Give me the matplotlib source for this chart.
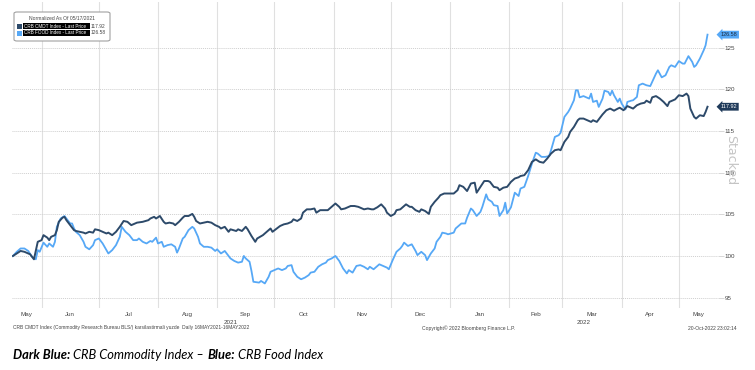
import matplotlib
matplotlib.use("Agg")
import matplotlib.pyplot as plt
import matplotlib.dates as mdates
import matplotlib.transforms as mtransforms
from matplotlib.patches import FancyBboxPatch, Rectangle
import pandas as pd

# ---- data (normalized to 100 on 17 May 2021) ----
cmdt_dates = [
    "2021-05-17", "2021-05-21", "2021-05-23", "2021-05-26", "2021-05-28", "2021-05-30", "2021-06-01", "2021-06-02",
    "2021-06-04", "2021-06-05", "2021-06-06", "2021-06-08", "2021-06-09", "2021-06-10", "2021-06-12", "2021-06-13",
    "2021-06-14", "2021-06-16", "2021-06-18", "2021-06-19", "2021-06-21", "2021-06-23", "2021-06-24", "2021-06-26",
    "2021-06-28", "2021-06-29", "2021-07-01", "2021-07-03", "2021-07-05", "2021-07-06", "2021-07-08", "2021-07-10",
    "2021-07-12", "2021-07-14", "2021-07-16", "2021-07-18", "2021-07-20", "2021-07-21", "2021-07-24", "2021-07-27",
    "2021-07-28", "2021-07-30", "2021-07-31", "2021-08-02", "2021-08-04", "2021-08-05", "2021-08-07", "2021-08-09",
    "2021-08-10", "2021-08-12", "2021-08-14", "2021-08-15", "2021-08-17", "2021-08-19", "2021-08-20", "2021-08-21",
    "2021-08-23", "2021-08-25", "2021-08-27", "2021-08-29", "2021-08-31", "2021-09-02", "2021-09-03", "2021-09-05",
    "2021-09-07", "2021-09-08", "2021-09-11", "2021-09-12", "2021-09-14", "2021-09-16", "2021-09-17", "2021-09-19",
    "2021-09-21", "2021-09-22", "2021-09-25", "2021-09-26", "2021-09-28", "2021-09-29", "2021-09-30", "2021-10-02",
    "2021-10-04", "2021-10-06", "2021-10-08", "2021-10-10", "2021-10-11", "2021-10-13", "2021-10-15", "2021-10-16",
    "2021-10-18", "2021-10-20", "2021-10-22", "2021-10-23", "2021-10-25", "2021-10-27", "2021-10-29", "2021-10-31",
    "2021-11-02", "2021-11-04", "2021-11-05", "2021-11-07", "2021-11-09", "2021-11-10", "2021-11-12", "2021-11-14",
    "2021-11-16", "2021-11-17", "2021-11-19", "2021-11-21", "2021-11-22", "2021-11-24", "2021-11-26", "2021-11-28",
    "2021-11-29", "2021-12-01", "2021-12-03", "2021-12-04", "2021-12-06", "2021-12-08", "2021-12-09", "2021-12-11",
    "2021-12-12", "2021-12-14", "2021-12-16", "2021-12-17", "2021-12-19", "2021-12-21", "2021-12-22", "2021-12-24",
    "2021-12-26", "2021-12-27", "2021-12-29", "2021-12-31", "2022-01-03", "2022-01-05", "2022-01-06", "2022-01-08",
    "2022-01-10", "2022-01-12", "2022-01-14", "2022-01-15", "2022-01-17", "2022-01-19", "2022-01-21", "2022-01-22",
    "2022-01-24", "2022-01-26", "2022-01-27", "2022-01-29", "2022-01-31", "2022-02-02", "2022-02-04", "2022-02-06",
    "2022-02-07", "2022-02-09", "2022-02-11", "2022-02-13", "2022-02-15", "2022-02-17", "2022-02-19", "2022-02-21",
    "2022-02-23", "2022-02-25", "2022-02-27", "2022-02-28", "2022-03-02", "2022-03-04", "2022-03-05", "2022-03-07",
    "2022-03-09", "2022-03-10", "2022-03-12", "2022-03-14", "2022-03-16", "2022-03-17", "2022-03-19", "2022-03-20",
    "2022-03-22", "2022-03-24", "2022-03-26", "2022-03-28", "2022-03-30", "2022-03-31", "2022-04-02", "2022-04-04",
    "2022-04-06", "2022-04-07", "2022-04-09", "2022-04-11", "2022-04-13", "2022-04-14", "2022-04-16", "2022-04-17",
    "2022-04-19", "2022-04-21", "2022-04-23", "2022-04-25", "2022-04-26", "2022-04-29", "2022-05-01", "2022-05-03",
    "2022-05-05", "2022-05-06", "2022-05-07", "2022-05-09", "2022-05-10", "2022-05-12", "2022-05-14", "2022-05-15",
    "2022-05-16",
]
cmdt_values = [
    100.0, 100.6, 100.5, 100.2, 99.6, 101.7, 101.9, 102.5,
    102.2, 101.9, 102.3, 102.5, 103.1, 104.1, 104.6, 104.7,
    104.3, 103.7, 103.1, 103.0, 102.9, 102.8, 102.7, 102.9,
    102.8, 103.2, 103.1, 102.9, 102.7, 102.8, 102.5, 102.9,
    103.5, 104.2, 104.1, 103.7, 103.9, 104.0, 104.1, 104.3,
    104.5, 104.7, 104.5, 104.8, 104.1, 103.9, 104.0, 103.9,
    103.7, 104.1, 104.6, 104.8, 104.8, 105.05, 104.7, 104.2,
    103.9, 104.0, 104.1, 104.0, 103.7, 103.5, 103.3, 103.5,
    102.9, 103.2, 103.0, 103.2, 103.0, 103.5, 103.2, 102.4,
    101.7, 102.1, 102.5, 102.7, 103.1, 103.3, 102.9, 103.25,
    103.6, 103.8, 103.9, 104.1, 104.4, 104.2, 104.5, 105.2,
    105.6, 105.6, 105.7, 105.2, 105.5, 105.5, 105.5, 105.9,
    106.3, 105.9, 105.6, 105.7, 105.9, 106.0, 106.0, 105.9,
    105.7, 105.6, 105.7, 105.6, 105.6, 105.85, 106.2, 105.7,
    105.2, 104.8, 105.05, 105.5, 105.6, 106.0, 106.2, 105.9,
    105.9, 105.5, 105.3, 105.6, 105.4, 105.05, 105.9, 106.5,
    107.0, 107.3, 107.5, 107.5, 107.5, 107.9, 108.5, 108.3,
    107.8, 108.7, 108.8, 107.6, 108.3, 109.0, 109.0, 108.9,
    108.3, 108.2, 107.9, 108.2, 108.3, 108.9, 109.3, 109.45,
    109.6, 109.7, 110.3, 111.3, 111.6, 111.3, 111.2, 111.7,
    112.3, 112.7, 112.8, 112.7, 113.7, 114.3, 114.9, 115.5,
    116.3, 116.5, 116.5, 116.3, 116.1, 116.3, 116.1, 116.4,
    117.0, 117.5, 117.7, 117.45, 117.7, 117.8, 117.5, 118.0,
    117.8, 117.7, 118.1, 118.3, 118.4, 118.65, 118.4, 119.05,
    119.2, 118.9, 118.5, 118.0, 118.5, 118.8, 119.3, 119.2,
    119.5, 119.2, 117.7, 116.7, 116.5, 116.9, 116.8, 117.3,
    117.92,
]

food_dates = [
    "2021-05-17", "2021-05-19", "2021-05-21", "2021-05-23", "2021-05-25", "2021-05-27", "2021-05-29", "2021-05-30",
    "2021-05-31", "2021-06-02", "2021-06-04", "2021-06-05", "2021-06-07", "2021-06-08", "2021-06-09", "2021-06-11",
    "2021-06-13", "2021-06-14", "2021-06-16", "2021-06-17", "2021-06-18", "2021-06-19", "2021-06-21", "2021-06-23",
    "2021-06-24", "2021-06-26", "2021-06-28", "2021-06-29", "2021-07-01", "2021-07-03", "2021-07-05", "2021-07-06",
    "2021-07-08", "2021-07-10", "2021-07-12", "2021-07-13", "2021-07-15", "2021-07-17", "2021-07-19", "2021-07-21",
    "2021-07-22", "2021-07-24", "2021-07-26", "2021-07-28", "2021-07-29", "2021-07-31", "2021-08-01", "2021-08-03",
    "2021-08-04", "2021-08-06", "2021-08-08", "2021-08-10", "2021-08-11", "2021-08-12", "2021-08-14", "2021-08-15",
    "2021-08-17", "2021-08-19", "2021-08-20", "2021-08-22", "2021-08-23", "2021-08-25", "2021-08-27", "2021-08-29",
    "2021-08-31", "2021-09-01", "2021-09-03", "2021-09-05", "2021-09-07", "2021-09-08", "2021-09-10", "2021-09-12",
    "2021-09-14", "2021-09-15", "2021-09-16", "2021-09-18", "2021-09-19", "2021-09-20", "2021-09-23", "2021-09-24",
    "2021-09-26", "2021-09-28", "2021-09-29", "2021-10-01", "2021-10-03", "2021-10-05", "2021-10-07", "2021-10-08",
    "2021-10-10", "2021-10-11", "2021-10-13", "2021-10-15", "2021-10-17", "2021-10-19", "2021-10-20", "2021-10-22",
    "2021-10-24", "2021-10-26", "2021-10-28", "2021-10-29", "2021-10-31", "2021-11-02", "2021-11-04", "2021-11-06",
    "2021-11-08", "2021-11-09", "2021-11-11", "2021-11-13", "2021-11-15", "2021-11-17", "2021-11-19", "2021-11-20",
    "2021-11-22", "2021-11-23", "2021-11-25", "2021-11-27", "2021-11-29", "2021-11-30", "2021-12-02", "2021-12-04",
    "2021-12-06", "2021-12-07", "2021-12-08", "2021-12-10", "2021-12-12", "2021-12-14", "2021-12-15", "2021-12-17",
    "2021-12-19", "2021-12-20", "2021-12-22", "2021-12-24", "2021-12-25", "2021-12-27", "2021-12-28", "2021-12-30",
    "2021-12-31", "2022-01-03", "2022-01-04", "2022-01-06", "2022-01-07", "2022-01-09", "2022-01-10", "2022-01-12",
    "2022-01-13", "2022-01-15", "2022-01-17", "2022-01-18", "2022-01-20", "2022-01-21", "2022-01-23", "2022-01-24",
    "2022-01-26", "2022-01-27", "2022-01-29", "2022-01-30", "2022-01-31", "2022-02-02", "2022-02-04", "2022-02-06",
    "2022-02-07", "2022-02-09", "2022-02-11", "2022-02-13", "2022-02-15", "2022-02-16", "2022-02-18", "2022-02-20",
    "2022-02-22", "2022-02-23", "2022-02-25", "2022-02-27", "2022-02-28", "2022-03-02", "2022-03-04", "2022-03-05",
    "2022-03-07", "2022-03-08", "2022-03-09", "2022-03-10", "2022-03-12", "2022-03-13", "2022-03-15", "2022-03-16",
    "2022-03-17", "2022-03-19", "2022-03-20", "2022-03-22", "2022-03-23", "2022-03-25", "2022-03-26", "2022-03-27",
    "2022-03-28", "2022-03-30", "2022-03-31", "2022-04-01", "2022-04-03", "2022-04-04", "2022-04-06", "2022-04-07",
    "2022-04-09", "2022-04-10", "2022-04-12", "2022-04-14", "2022-04-16", "2022-04-17", "2022-04-19", "2022-04-20",
    "2022-04-22", "2022-04-24", "2022-04-26", "2022-04-27", "2022-04-29", "2022-05-01", "2022-05-03", "2022-05-04",
    "2022-05-06", "2022-05-08", "2022-05-09", "2022-05-10", "2022-05-12", "2022-05-14", "2022-05-15", "2022-05-16",
]
food_values = [
    100.0, 100.5, 100.9, 100.9, 100.6, 99.9, 99.6, 100.7,
    100.5, 101.6, 101.1, 101.5, 101.1, 101.7, 103.5, 104.5,
    104.8, 104.5, 103.9, 103.9, 103.3, 102.9, 102.5, 101.7,
    101.1, 100.8, 101.3, 101.9, 102.1, 101.5, 100.7, 100.3,
    100.7, 101.3, 102.3, 103.5, 102.9, 102.5, 101.9, 101.9,
    102.1, 101.7, 101.5, 101.8, 101.7, 102.2, 101.5, 101.7,
    101.1, 101.3, 101.4, 101.1, 100.4, 100.9, 102.1, 102.3,
    103.1, 103.5, 103.3, 102.3, 101.5, 101.1, 101.1, 101.0,
    100.6, 100.8, 100.3, 100.6, 100.0, 99.7, 99.4, 99.2,
    99.3, 100.0, 99.7, 99.3, 98.2, 96.9, 96.8, 97.0,
    96.7, 97.5, 98.1, 98.3, 98.5, 98.3, 98.5, 98.8,
    98.9, 98.1, 97.5, 97.2, 97.4, 97.7, 98.0, 98.1,
    98.7, 99.0, 99.2, 99.5, 99.7, 100.0, 99.4, 98.5,
    97.9, 98.3, 98.0, 98.8, 98.9, 98.7, 98.4, 98.7,
    98.4, 98.6, 99.0, 98.8, 98.6, 98.4, 99.5, 100.5,
    100.9, 101.2, 101.6, 101.2, 101.4, 100.6, 100.1, 100.5,
    100.1, 99.5, 100.3, 100.9, 101.7, 102.3, 102.8, 102.7,
    102.6, 102.8, 103.3, 103.7, 103.9, 103.9, 104.6, 105.7,
    105.5, 104.8, 105.3, 105.9, 107.4, 106.8, 106.5, 106.1,
    106.0, 104.8, 105.5, 106.4, 105.1, 105.85, 107.6, 107.2,
    108.1, 108.3, 109.6, 111.1, 112.4, 112.3, 111.9, 111.9,
    112.0, 112.7, 114.3, 114.5, 114.8, 116.7, 117.3, 117.7,
    118.7, 119.9, 119.9, 119.05, 119.2, 119.1, 118.9, 119.5,
    118.5, 118.65, 117.9, 118.9, 119.85, 119.7, 119.3, 119.85,
    119.3, 118.5, 118.9, 118.3, 117.6, 118.5, 118.65, 118.7,
    119.1, 120.5, 120.7, 120.5, 120.4, 120.9, 121.9, 122.3,
    121.45, 121.7, 122.7, 122.9, 122.7, 123.4, 123.1, 123.1,
    124.0, 123.3, 122.7, 122.9, 123.7, 124.7, 125.3, 126.58,
]

y_ticks = [95, 100, 105, 110, 115, 120, 125]
legend_title = "Normalized As Of 05/17/2021"
series_names = ["CRB CMDT Index - Last Price", "CRB FOOD Index - Last Price"]
source_note = "CRB CMDT Index (Commodity Research Bureau BLS/) karsilastirmali yuzde  Daily 16MAY2021-16MAY2022"
copyright_note = "Copyright\u00a9 2022 Bloomberg Finance L.P."
stamp_note = "20-Oct-2022 23:02:14"

DARK = "#2d4a6a"
LIGHT = "#56a8f6"
TXT = "#444444"
W, H = 755, 370

plt.rcParams["font.family"] = ["Liberation Sans", "DejaVu Sans"]

cmdt = pd.Series(cmdt_values, index=pd.to_datetime(cmdt_dates))
food = pd.Series(food_values, index=pd.to_datetime(food_dates))


def fx(x):
    return x / W


def fy(y):
    return 1 - y / H


fig = plt.figure(figsize=(W / 100, H / 100), dpi=100)
fig.patch.set_facecolor("white")
ax = fig.add_axes([fx(12), fy(308), (718 - 12) / W, (308 - 2) / H])

ax.plot(food.index, food.values, color=LIGHT, lw=1.3, zorder=3)
ax.plot(cmdt.index, cmdt.values, color=DARK, lw=1.4, zorder=4)

x0 = pd.Timestamp("2021-05-16 12:00")
x1 = pd.Timestamp("2022-05-21 12:00")
ax.set_xlim(x0, x1)
ax.set_ylim(93.75, 130.5)

for s in ax.spines.values():
    s.set_visible(False)

# month boundaries = gridlines, month names centred on visible part of month
starts = pd.date_range("2021-06-01", "2022-05-01", freq="MS")
ax.set_xticks(starts)
ax.set_xticklabels([])
ax.tick_params(axis="x", which="major", length=0)
bounds = [x0] + list(starts) + [x1]
mids = [a + (b - a) / 2 for a, b in zip(bounds[:-1], bounds[1:])]
ax.set_xticks(mids, minor=True)
ax.set_xticklabels([m.strftime("%b") for m in [x0] + list(starts)], minor=True)
ax.tick_params(axis="x", which="minor", length=0, pad=3, labelsize=4.5, labelcolor=TXT)
ax.grid(axis="x", which="major", color="#e0e0e0", lw=0.8, ls="-")

ax.yaxis.tick_right()
ax.set_yticks(y_ticks)
ax.set_yticklabels([str(v) for v in y_ticks])
ax.tick_params(axis="y", length=4, width=0.5, color="#c8c8c8", pad=1, labelsize=4.5, labelcolor=TXT)
ax.grid(axis="y", color="#cfcfcf", lw=0.7, ls=(0, (1, 1)))

# year labels under the months
ytrans = mtransforms.blended_transform_factory(ax.transData, ax.transAxes)
jan1 = pd.Timestamp("2022-01-01")
for yr, (a, b) in zip(["2021", "2022"], [(x0, jan1), (jan1, x1)]):
    ax.text(a + (b - a) / 2, -0.038, yr, transform=ytrans, ha="center", va="top", fontsize=4.5, color=TXT)

# right hand value tags
vtrans = mtransforms.blended_transform_factory(ax.transAxes, ax.transData)
ax.text(1.004, food.values[-1], f"{food.values[-1]:.2f}", transform=vtrans, ha="left", va="center",
        fontsize=4, color="#1d2c40",
        bbox=dict(boxstyle="larrow,pad=0.25", fc=LIGHT, ec="none"), zorder=6, clip_on=False)
ax.text(1.004, cmdt.values[-1], f"{cmdt.values[-1]:.2f}", transform=vtrans, ha="left", va="center",
        fontsize=4, color="white",
        bbox=dict(boxstyle="larrow,pad=0.25", fc="#1f3a5a", ec="none"), zorder=6, clip_on=False)

fig.text(fx(731), fy(160), "Stacked", rotation=-90, ha="center", va="center", fontsize=9, color="#c4c4c4",
         family=["DejaVu Sans"])

# legend box
fig.add_artist(FancyBboxPatch((fx(14), fy(41)), 96 / W, 29 / H, boxstyle="round,pad=0,rounding_size=0.004",
                              transform=fig.transFigure, fc="white", ec="#a0a0a0", lw=0.8))
fig.text(fx(62), fy(18), legend_title, ha="center", va="center", fontsize=3.6, color=TXT)
for i, (name, col, val) in enumerate(zip(series_names, [DARK, LIGHT], [cmdt.values[-1], food.values[-1]])):
    yc = 26 + i * 7
    fig.add_artist(Rectangle((fx(17), fy(yc + 2.5)), 5 / W, 5 / H, transform=fig.transFigure, fc=col, ec="none"))
    fig.add_artist(Rectangle((fx(23), fy(yc + 3.3)), 67 / W, 6.6 / H, transform=fig.transFigure, fc="black", ec="none"))
    fig.text(fx(24), fy(yc), name, ha="left", va="center", fontsize=3.3, color="white")
    fig.text(fx(91), fy(yc), f"{val:.2f}", ha="left", va="center", fontsize=3.5, color=TXT)

# footer
fig.text(fx(13), fy(328), source_note, ha="left", va="center", fontsize=3.5, color=TXT)
fig.text(fx(469), fy(328), copyright_note, ha="center", va="center", fontsize=3.6, color=TXT)
fig.text(fx(737), fy(328), stamp_note, ha="right", va="center", fontsize=3.6, color=TXT)

# caption with mixed bold / italic pieces
pieces = [("Dark Blue:", "bold"), (" CRB Commodity Index \u2013 ", "normal"), ("Blue:", "bold"), (" CRB Food Index", "normal")]
renderer = fig.canvas.get_renderer()
xpos = 13
for txt, wt in pieces:
    t = fig.text(fx(xpos), fy(355), txt, ha="left", va="center", fontsize=9.3, style="italic",
                 weight=wt, family=["Lato", "DejaVu Sans"], color="black")
    xpos += t.get_window_extent(renderer).width

fig.savefig("out.png", dpi=100, facecolor="white")
